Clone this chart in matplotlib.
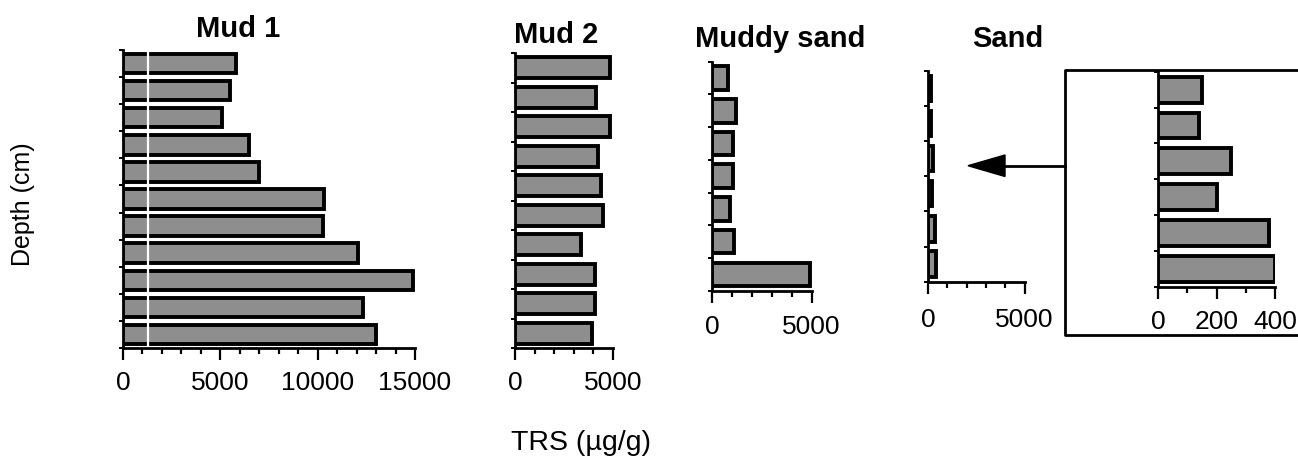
import numpy as np
import matplotlib
matplotlib.use("Agg")
import matplotlib.pyplot as plt
from matplotlib.transforms import Affine2D
from matplotlib.lines import Line2D
from matplotlib.patches import Polygon

# TRS concentration (ug/g) per depth interval, top to bottom
mud1 = [5800, 5520, 5110, 6460, 6990, 10310, 10270, 12070, 14920, 12320, 13010]
mud2 = [4850, 4130, 4850, 4250, 4370, 4510, 3370, 4080, 4080, 3910]
muddy_sand = [820, 1200, 1040, 1040, 900, 1120, 4910]
sand = [150, 140, 250, 200, 380, 400]

titles = ["Mud 1", "Mud 2", "Muddy sand", "Sand"]
x_label = "TRS (\u00b5g/g)"
y_label = "Depth (cm)"

plt.rcParams["font.family"] = ["Liberation Sans", "DejaVu Sans"]

W, H = 1298, 462
fig = plt.figure(figsize=(W / 100, H / 100), dpi=100)
px = Affine2D().scale(1 / W, -1 / H).translate(0, 1) + fig.transFigure

FILL = "#8e8e8e"
LW = 2.0
TICK_FS = 19


def add_ax(x0, x1, y0, y1):
    return fig.add_axes([x0 / W, 1 - y1 / H, (x1 - x0) / W, (y1 - y0) / H])


def panel(ax, values, xmax, major, labels, minor, pad):
    n = len(values)
    ax.barh(np.arange(n) + 0.5, values, height=0.72, color=FILL,
            edgecolor="black", linewidth=2.8, zorder=3)
    ax.set_ylim(n, 0)
    ax.set_xlim(0, xmax)
    ax.set_yticks(np.arange(n + 1))
    ax.set_yticklabels([])
    ax.set_xticks(major)
    ax.set_xticklabels(labels)
    ax.set_xticks(minor, minor=True)
    for s in ("top", "right"):
        ax.spines[s].set_visible(False)
    for s in ("left", "bottom"):
        ax.spines[s].set_linewidth(LW)
    ax.tick_params(axis="x", which="major", length=8.6, width=1.6,
                   labelsize=TICK_FS, pad=pad, direction="out")
    ax.tick_params(axis="x", which="minor", length=4.3, width=1.6,
                   direction="out")
    ax.tick_params(axis="y", which="major", length=3.0, width=1.4,
                   direction="out")
    ax.patch.set_visible(False)


ax1 = add_ax(123, 415, 50, 348)
panel(ax1, mud1, 15000, [0, 5000, 10000, 15000],
      ["0", "5000", "10000", "15000"], np.arange(0, 15001, 1000), 8.2)
ax1.axvline(1280, ymin=0.01, ymax=1.0, color="white", lw=1.6, zorder=6)

ax2 = add_ax(515, 613, 53, 348)
panel(ax2, mud2, 5000, [0, 5000], ["0", "5000"],
      np.arange(0, 5001, 1000), 8.2)

ax3 = add_ax(712, 811.7, 61.7, 290.7)
panel(ax3, muddy_sand, 5000, [0, 5000], ["0", "5000"],
      np.arange(0, 5001, 1000), 9.0)

ax4 = add_ax(928, 1024.5, 70.7, 281.7)
panel(ax4, sand, 5000, [0, 5000], ["0", "5000"],
      np.arange(0, 5001, 1000), 10.5)

# enlarged view of the sand profile
ax5 = add_ax(1158.3, 1275, 71.7, 286.7)
panel(ax5, sand, 400, [0, 200, 400], ["0", "200", "400"], [100, 300], 8.5)

# frame around the enlarged view and the pointer arrow
fig.add_artist(Line2D([1310, 1065, 1065, 1310], [69.5, 69.5, 335, 335],
                      transform=px, color="black", lw=LW))
fig.add_artist(Line2D([1065, 1000], [165.7, 165.7], transform=px,
                      color="black", lw=LW))
fig.add_artist(Polygon([[968, 165.7], [1005, 155], [1005, 176.5]],
                       closed=True, transform=px, facecolor="black",
                       edgecolor="black"))


def ftext(x, y, s, **kw):
    fig.text(x / W, 1 - y / H, s, **kw)


title_pos = [(238, 37), (556, 43), (780, 47), (1008, 47)]
for (tx, ty), t in zip(title_pos, titles):
    ftext(tx, ty, t, ha="center", va="baseline", fontsize=21,
          fontweight="bold")

ftext(581, 443, x_label, ha="center", va="center", fontsize=20.5)
ftext(23, 204, y_label, ha="center", va="center", fontsize=18,
      rotation=90)

fig.savefig("out.png", dpi=100)
